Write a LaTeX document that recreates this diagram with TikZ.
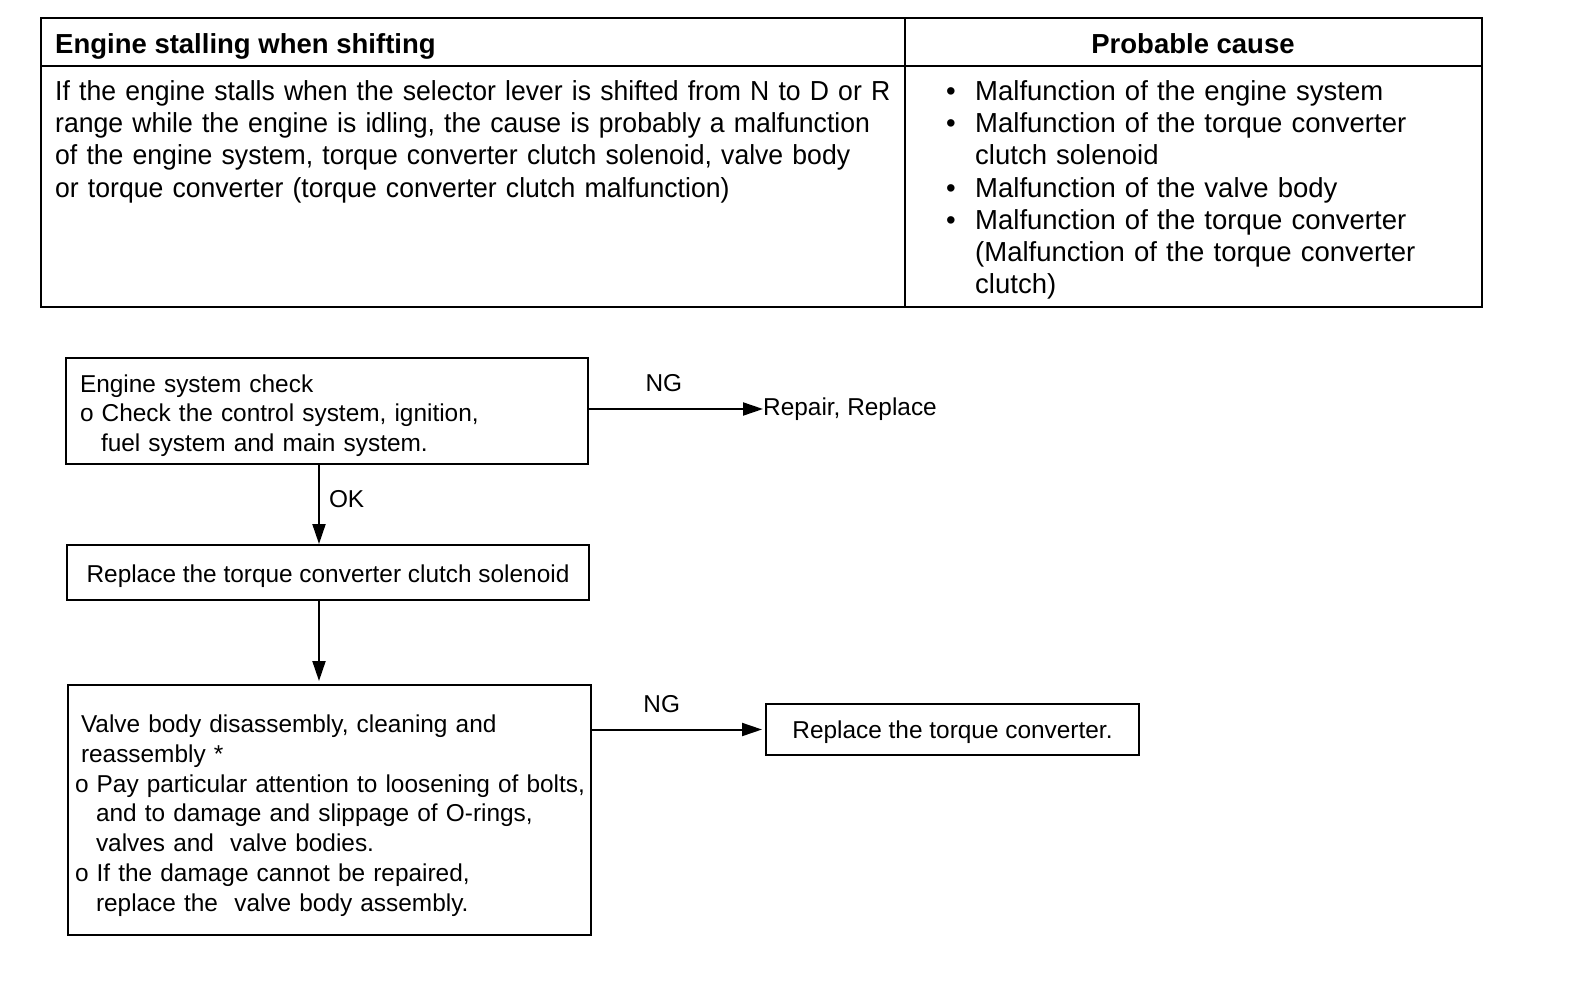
\documentclass[tikz,border=0pt]{standalone}
\usepackage{fontspec}
\setmainfont{Liberation Sans}
\newfontfamily\narrowsans[FakeStretch=0.967]{Liberation Sans}
\usetikzlibrary{arrows.meta,positioning}

\tikzset{
  tabtext/.style={font=\fontsize{27.5}{32.3}\selectfont,inner sep=0pt},
  chart/.style={font=\fontsize{24.4}{29.7}\selectfont,inner sep=0pt},
  box/.style={draw,line width=2pt,chart,align=left},
  flow/.style={-{Triangle[length=20pt,width=13pt]},line width=2pt},
}

\begin{document}
\begin{tikzpicture}[x=1pt,y=-1pt]
  \useasboundingbox (0,0) rectangle (1584,990);

  % table
  \draw[line width=2.6pt] (41,18) rectangle (1482,307);
  \draw[line width=2.2pt] (41,66) -- (1482,66);
  \draw[line width=2.2pt] (905,18) -- (905,307);
  \draw (55,54) node[tabtext,anchor=base west] (symptom) {\bfseries Engine stalling when shifting};
  \draw (1193,53) node[tabtext,anchor=base] (cause) {\bfseries Probable cause};
  \draw (55,80) node[tabtext,anchor=north west,text width=840pt,align=left] (detail)
    {\narrowsans
     \mbox{If the engine stalls when the selector lever is shifted from N to D or R}\\
     range while the engine is idling, the cause is probably a malfunction\\
     of the engine system, torque converter clutch solenoid, valve body\\
     or torque converter (torque converter clutch malfunction)};
  \draw (946,80) node[tabtext,anchor=north west,text width=520pt,align=left] (causes)
    {\makebox[29pt][l]{\textbullet}Malfunction of the engine system\\
     \makebox[29pt][l]{\textbullet}Malfunction of the torque converter\\
     \hspace*{29pt}clutch solenoid\\
     \makebox[29pt][l]{\textbullet}Malfunction of the valve body\\
     \makebox[29pt][l]{\textbullet}Malfunction of the torque converter\\
     \hspace*{29pt}(Malfunction of the torque converter\\
     \hspace*{29pt}clutch)};

  % flow chart
  \draw (327,411) node[box,minimum width=522pt,minimum height=106pt,text width=494pt] (engine)
    {\rule{0pt}{27pt}Engine system check\\
     o Check the control system, ignition,\\
     \hspace*{21pt}fuel system and main system.};
  \draw (763,409) node[chart,anchor=west] (repair) {Repair, Replace};
  \draw (328,572.5) node[box,align=center,minimum width=522pt,minimum height=55pt,text height=24pt,text depth=5pt] (solenoid)
    {Replace the torque converter clutch solenoid};
  \draw (329.5,810) node[box,minimum width=523pt,minimum height=250pt,text width=509pt] (valve)
    {\rule{0pt}{29pt}\hspace*{6pt}Valve body disassembly, cleaning and\\
     \hspace*{6pt}reassembly *\\
     \mbox{o Pay particular attention to loosening of bolts,}\\
     \hspace*{21pt}and to damage and slippage of O-rings,\\
     \hspace*{21pt}valves and\ \ valve bodies.\\
     o If the damage cannot be repaired,\\
     \hspace*{21pt}replace the\ \ valve body assembly.};
  \draw (952.5,729.5) node[box,align=center,minimum width=373pt,minimum height=51pt,text height=22pt,text depth=5pt] (converter)
    {Replace the torque converter.};

  \path[flow] (engine.east |- repair) edge node[chart,pos=0.43,anchor=base,yshift=18pt] {NG} (repair.west);
  \path[flow] ([xshift=-8pt]engine.south) edge node[chart,pos=0.54,anchor=base west,xshift=9pt] {OK} ([xshift=-8pt]engine.south |- solenoid.north);
  \path[flow] ([xshift=-9pt]solenoid.south) edge ([xshift=-9pt,yshift=3pt]solenoid.south |- valve.north);
  \path[flow] (valve.east |- converter) edge node[chart,pos=0.41,anchor=base,yshift=17pt] {NG} ([xshift=-3pt]converter.west);

\end{tikzpicture}
\end{document}
